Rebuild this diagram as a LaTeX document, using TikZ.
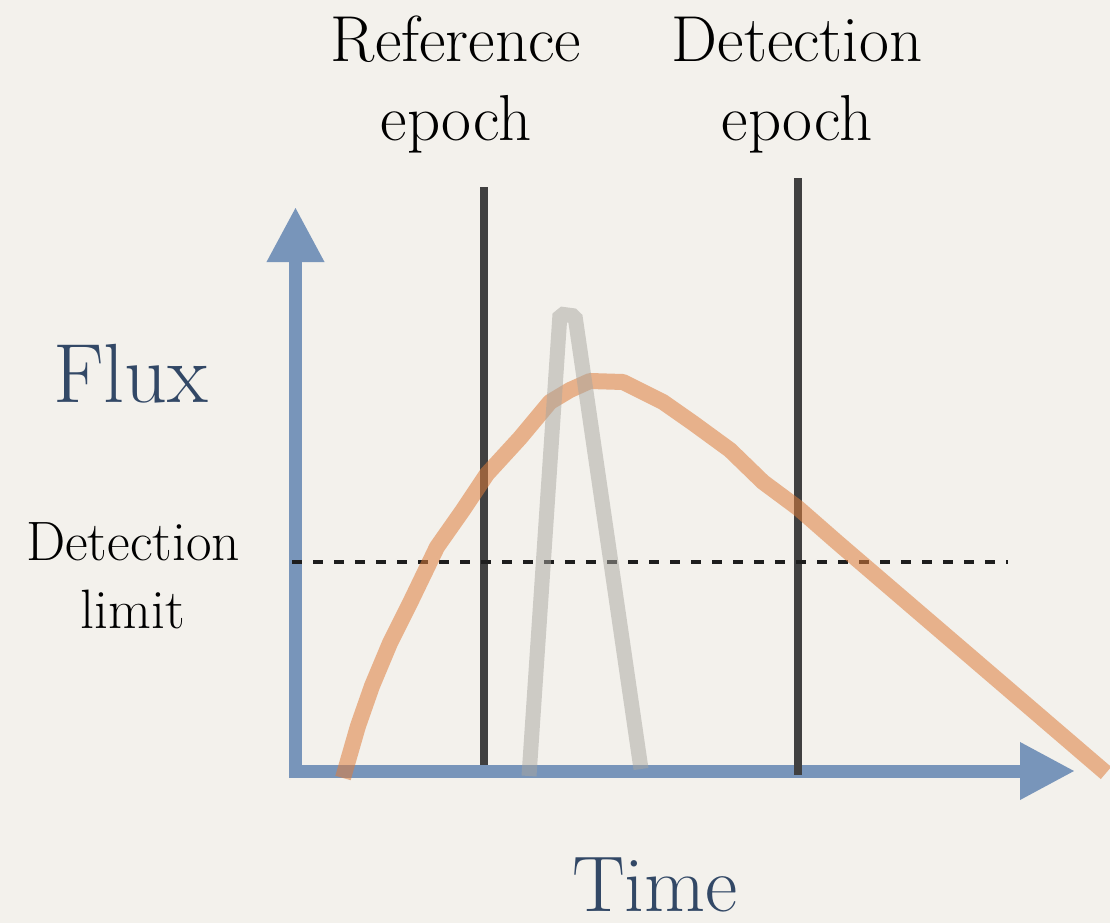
\documentclass[tikz,border=0pt]{standalone}
\usepackage{fontspec}
\usetikzlibrary{arrows.meta}

\definecolor{paper}{HTML}{F3F1EC}
\definecolor{axisblue}{HTML}{7895BA}
\definecolor{labelblue}{HTML}{324866}
\definecolor{epochgray}{HTML}{404040}
\definecolor{limitblack}{HTML}{1E1E1E}
\definecolor{slowcurve}{RGB}{222,125,60}
\definecolor{fastcurve}{RGB}{168,166,160}

\tikzset{
  axisline/.style={draw=axisblue, line width=13pt, line join=miter,
    {Triangle[width=54pt,length=55pt]}-{Triangle[width=54pt,length=55pt]}},
  epochline/.style={draw=epochgray, line width=8pt},
  limitline/.style={draw=limitblack, line width=4.5pt, dash pattern=on 10pt off 11pt},
  slowlc/.style={draw=slowcurve, line width=16pt, draw opacity=0.55, line join=round},
  fastlc/.style={draw=fastcurve, line width=15pt, draw opacity=0.5, line join=bevel},
  % multi-line labels are placed by the baseline of their last line
  toplabel/.style={anchor=base, align=center, text=black,
    font=\fontsize{65}{78}\selectfont, inner sep=0pt},
  sidelabel/.style={anchor=base, align=center, text=black,
    font=\fontsize{55.5}{68}\selectfont, inner sep=0pt},
  axislabel/.style={anchor=base, text=labelblue, inner sep=0pt},
}

\begin{document}
\begin{tikzpicture}[x=1pt, y=-1pt]
  % page and background
  \useasboundingbox (0,0) rectangle (1110,923);
  \fill[paper] (0,0) rectangle (1110,923);

  % axes
  \coordinate (ytip) at (295.5,207);
  \coordinate (origin) at (295.5,771);
  \coordinate (xtip) at (1075,771);
  \draw[axisline] (ytip) -- (origin) -- (xtip);

  % epoch markers
  \coordinate (reftop) at (484,187);
  \coordinate (refbot) at (484,765);
  \coordinate (dettop) at (798,178);
  \coordinate (detbot) at (798,775);
  \draw[epochline] (reftop) -- (refbot);
  \draw[epochline] (dettop) -- (detbot);

  % detection limit
  \coordinate (limstart) at (292,562);
  \coordinate (limend) at (1008,562);
  \draw[limitline] (limstart) -- (limend);

  % slowly evolving light curve
  \draw[slowlc] (343,778) -- (358,726) -- (372,686) -- (390,643) -- (410,603)
    -- (437,547) -- (463,510) -- (487,474) -- (520,438) -- (550,402)
    -- (570,390) -- (590,381) -- (623,382) -- (663,402) -- (693,423)
    -- (730,450) -- (763,482) -- (798,508) -- (838,543) -- (1106,773);

  % short transient
  \draw[fastlc] (529,776) -- (560,314) -- (575,316) -- (641,769);

  % labels
  \node[toplabel] (reflabel) at (456,140) {Reference\\epoch};
  \node[toplabel] (detlabel) at (797,140) {Detection\\epoch};
  \node[sidelabel] (limlabel) at (133,628) {Detection\\limit};
  \node[axislabel, font=\fontsize{84}{90}\selectfont] (fluxlabel) at (131,402) {Flux};
  \node[axislabel, font=\fontsize{79}{90}\selectfont] (timelabel) at (655,911) {Time};
\end{tikzpicture}
\end{document}
